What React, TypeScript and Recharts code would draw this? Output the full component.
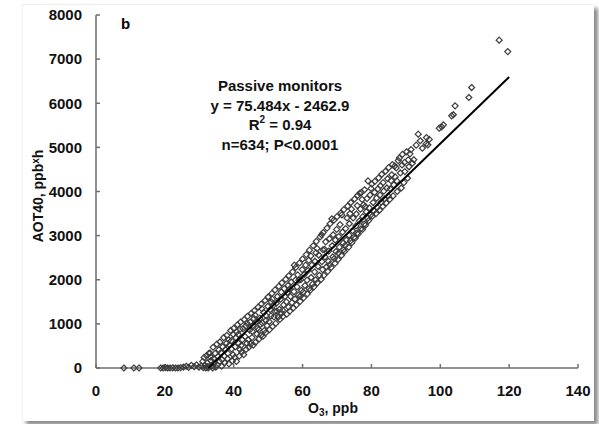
import React from "react";
import { ScatterChart, Scatter, XAxis, YAxis } from "recharts";

// O3 (ppb) vs AOT40 (ppb*h), passive monitors
const nearZero: [number, number][] = [
  [8.1, 0], [11, 0], [12.5, 0], [18.8, 0], [19.5, 0], [20.2, 10], [20.8, 0],
  [21.5, 0], [22.3, 5], [23.1, 0], [23.8, 0], [24.6, 10], [25.4, 20], [26.2, 40],
  [26.9, 15], [27.7, 60], [28.5, 30], [29.2, 70], [29.9, 20], [30.6, 45],
  [31.2, 10], [31.9, 0], [32.5, 30],
];

const rising: [number, number][] = [
  [31.0, 150], [31.4, 240], [31.7, 60], [32.1, 280], [32.3, 120], [32.8, 330], [32.6, 0],
  [33.1, 340], [33.4, 170], [33.7, 45], [33.3, 250], [33.9, 0],
  [34.0, 470], [34.3, 110], [34.6, 330], [34.8, 20], [34.2, 210],
  [35.1, 540], [35.4, 260], [35.2, 70], [35.7, 410], [35.9, 150],
  [36.0, 590], [36.3, 350], [36.5, 40], [36.8, 480], [36.6, 190],
  [37.1, 690], [37.4, 120], [37.6, 420], [37.3, 270], [37.9, 560],
  [38.0, 740], [38.3, 330], [38.6, 95], [38.8, 520], [38.5, 640], [38.2, 210],
  [39.1, 850], [39.4, 430], [39.6, 160], [39.3, 620], [39.8, 300], [39.9, 760],
  [40.0, 900], [40.3, 240], [40.6, 690], [40.4, 480], [40.8, 150], [40.9, 820],
  [41.1, 980], [41.4, 560], [41.6, 270], [41.3, 760], [41.8, 420], [41.9, 880],
  [42.0, 1040], [42.3, 360], [42.5, 640], [42.7, 890], [42.9, 300], [42.2, 510],
  [43.1, 1100], [43.3, 710], [43.6, 420], [43.5, 950], [43.8, 560], [43.9, 1010],
  [44.0, 1170], [44.4, 470], [44.6, 860], [44.2, 640], [44.8, 1040], [44.9, 540],
  [45.1, 1240], [45.3, 690], [45.5, 960], [45.7, 520], [45.9, 1120], [45.4, 830],
  [46.0, 1300], [46.3, 580], [46.5, 1050], [46.7, 770], [46.9, 900], [46.2, 1200],
  [47.1, 1380], [47.4, 660], [47.6, 1130], [47.3, 870], [47.8, 990], [47.9, 740],
  [48.0, 1450], [48.3, 1020], [48.5, 720], [48.7, 1260], [48.9, 850], [48.2, 1340],
  [49.1, 1530], [49.3, 800], [49.5, 1180], [49.7, 960], [49.9, 1400], [49.4, 1080],
  [50.0, 1610], [50.4, 870], [50.6, 1320], [50.3, 1050], [50.8, 1180], [50.9, 1500],
  [51.1, 1690], [51.3, 940], [51.5, 1420], [51.7, 1160], [51.9, 1280], [51.2, 1560],
  [52.0, 1770], [52.2, 1010], [52.5, 1290], [52.7, 1620], [52.9, 1150], [52.4, 1470],
  [53.1, 1850], [53.4, 1100], [53.6, 1560], [53.3, 1330], [53.8, 1720], [53.9, 1240],
  [54.0, 1930], [54.3, 1170], [54.5, 1430], [54.7, 1800], [54.9, 1620], [54.2, 1310],
  [55.1, 2010], [55.4, 1220], [55.6, 1710], [55.3, 1500], [55.8, 1870], [55.9, 1380],
  [56.0, 2090], [56.3, 1290], [56.5, 1620], [56.7, 1950], [56.9, 1480], [56.2, 1790],
  [57.1, 2180], [57.3, 1360], [57.6, 2330], [57.5, 1730], [57.8, 1560], [57.9, 1990],
  [58.0, 2280], [58.2, 1430], [58.4, 1840], [58.6, 2110], [58.8, 1650], [58.9, 1990],
  [59.1, 2380], [59.3, 1510], [59.5, 2000], [59.7, 1760], [59.9, 2230], [59.4, 1630],
  [60.0, 2470], [60.3, 1590], [60.5, 2120], [60.7, 1870], [60.9, 2330], [60.2, 1720],
];

const middle: [number, number][] = [
  [61.1, 2570], [61.4, 1680], [61.6, 2210], [61.3, 1990], [61.8, 2440], [61.9, 1800],
  [62.0, 2670], [62.2, 1760], [62.5, 2050], [62.7, 2330], [62.9, 1900], [62.4, 2540],
  [63.1, 2770], [63.3, 1840], [63.6, 2420], [63.5, 2180], [63.8, 2000], [63.9, 2610],
  [64.0, 2870], [64.3, 1930], [64.5, 2300], [64.7, 2560], [64.9, 2100], [64.2, 2710],
  [65.1, 2970], [65.4, 2010], [65.5, 3020], [65.6, 2410], [65.8, 2230], [65.9, 2680],
  [66.0, 3070], [66.2, 2100], [66.5, 2520], [66.7, 2860], [66.9, 2290], [66.4, 2690],
  [67.1, 3170], [67.3, 2190], [67.6, 2650], [67.5, 2420], [67.8, 2930], [67.9, 2340],
  [68.0, 3270], [68.3, 2280], [68.5, 3380], [68.6, 2770], [68.8, 2520], [68.9, 3020],
  [69.1, 3350], [69.4, 2370], [69.5, 2900], [69.7, 2640], [69.9, 3140], [69.2, 2480],
  [70.0, 3430], [70.3, 2460], [70.5, 2980], [70.7, 2740], [70.9, 3250], [70.4, 2600],
  [71.1, 3510], [71.3, 2550], [71.4, 3470], [71.6, 3080], [71.8, 2830], [71.9, 2680],
  [72.0, 3590], [72.2, 2640], [72.5, 3160], [72.7, 2900], [72.9, 3400], [72.4, 2780],
  [73.1, 3670], [73.4, 2740], [73.6, 3270], [73.5, 3010], [73.8, 3500], [73.9, 2880],
  [74.0, 3750], [74.3, 2840], [74.5, 3110], [74.7, 3400], [74.9, 2960], [74.2, 3600],
  [75.1, 3830], [75.3, 2940], [75.6, 3490], [75.5, 3220], [75.8, 3050], [75.9, 3680],
  [76.0, 3910], [76.2, 3040], [76.5, 3330], [76.6, 3960], [76.8, 3600], [76.9, 3150],
  [77.1, 3980], [77.4, 3140], [77.5, 3430], [77.7, 3700], [77.9, 3260], [77.3, 3820],
  [78.0, 4040], [78.3, 3240], [78.5, 3540], [78.7, 3840], [78.9, 3390], [78.2, 3660],
  [79.0, 4240], [79.2, 3340], [79.4, 3630], [79.6, 3920], [79.8, 3470], [79.9, 4070],
  [80.1, 4170], [80.3, 3440], [80.5, 3750], [80.7, 3560], [80.9, 3980],
  [81.0, 4230], [81.3, 3500], [81.5, 3850], [81.7, 3640], [81.9, 4060],
  [82.1, 4310], [82.4, 3580], [82.5, 3920], [82.8, 3760], [82.6, 4130],
  [83.0, 4390], [83.3, 3660], [83.6, 4010], [83.8, 3830], [83.4, 4200],
  [84.1, 4460], [84.5, 4080], [84.3, 3740], [84.7, 4290], [84.9, 3900],
  [85.0, 4540], [85.7, 4247], [85.3, 3820], [85.5, 4060], [85.9, 4380],
  [86.1, 4610], [86.8, 4580], [86.3, 3900], [86.5, 4150], [86.9, 4330],
  [87.2, 4535], [87.5, 4000], [87.8, 4700], [87.4, 4240],
  [88.1, 4760], [88.4, 4420], [88.7, 4080], [88.9, 4600],
  [89.0, 4840], [89.7, 4451], [89.4, 4200], [89.6, 4660],
  [90.2, 4900], [90.7, 4717], [90.5, 4300], [90.9, 4560],
];

const upperTail: [number, number][] = [
  [91.2, 4853], [91.9, 4640], [91.5, 4950], [92.3, 4720], [93.6, 5299], [93.0, 5050],
  [94.2, 5150], [94.8, 4980], [95.9, 5079], [96.0, 5222], [96.4, 5057], [96.8, 5180],
  [99.7, 5435], [100.4, 5465], [100.9, 5510], [103.3, 5714], [103.8, 5740],
  [104.3, 5941], [108.3, 6130], [109.1, 6356], [117.1, 7430], [119.6, 7170],
];

const xTicks = [0, 20, 40, 60, 80, 100, 120, 140];
const yTicks = [0, 1000, 2000, 3000, 4000, 5000, 6000, 7000, 8000];

// regression from the figure: y = 75.484x - 2462.9
const slope = 75.484;
const intercept = -2462.9;
const fitRange = [-intercept / slope, 120];

const points = [...nearZero, ...rising, ...middle, ...upperTail].map(([x, y]) => ({ x, y }));
const fitLine = fitRange.map((x) => ({ x, y: slope * x + intercept }));

const font = '"Liberation Sans", Arial, sans-serif';
const axisColor = "#6e6e6e";

const Diamond = (props: any) => {
  const { cx, cy } = props;
  if (cx == null || cy == null) return <g />;
  const r = 3;
  return (
    <path
      d={`M${cx},${cy - r}L${cx + r},${cy}L${cx},${cy + r}L${cx - r},${cy}Z`}
      fill="none"
      stroke="#3c3c3c"
      strokeWidth={1.2}
    />
  );
};

const tickStyle = { fontFamily: font, fontSize: 15, fontWeight: 700, fill: "#111" };

export default function App() {
  return (
    <div style={{ position: "absolute", left: 0, top: 0, width: 599, height: 424, background: "#fff", overflow: "hidden" }}>
      <div
        style={{
          position: "absolute",
          left: 22,
          top: 4,
          width: 571,
          height: 416,
          background: "#fff",
          borderTop: "1px solid #eeeeee",
          borderLeft: "1px solid #f2f2f2",
          boxShadow: "4px 4px 4px #8a8a8a",
        }}
      />
      <div style={{ position: "absolute", left: 0, top: 0 }}>
        <ScatterChart width={599} height={424} margin={{ top: 15, right: 21, bottom: 0, left: 0 }}>
          <XAxis
            type="number"
            dataKey="x"
            domain={[0, 140]}
            ticks={xTicks}
            interval={0}
            height={56}
            tickSize={-4}
            tickMargin={21}
            axisLine={{ stroke: axisColor, strokeWidth: 1.5 }}
            tickLine={{ stroke: axisColor, strokeWidth: 1.5 }}
            tick={tickStyle}
          />
          <YAxis
            type="number"
            dataKey="y"
            domain={[0, 8000]}
            ticks={yTicks}
            interval={0}
            width={96}
            tickSize={-4}
            tickMargin={18}
            axisLine={{ stroke: axisColor, strokeWidth: 1.5 }}
            tickLine={{ stroke: axisColor, strokeWidth: 1.5 }}
            tick={tickStyle}
          />
          <Scatter data={points} shape={Diamond} isAnimationActive={false} />
          <Scatter
            data={fitLine}
            line={{ stroke: "#000", strokeWidth: 2 }}
            shape={() => <g />}
            isAnimationActive={false}
          />
        </ScatterChart>
      </div>
      <div style={{ position: "absolute", left: 121, top: 16, fontFamily: font, fontWeight: 700, fontSize: 15, lineHeight: "15px" }}>
        b
      </div>
      <div
        style={{
          position: "absolute",
          left: 180,
          top: 76,
          width: 200,
          textAlign: "center",
          fontFamily: font,
          fontWeight: 700,
          fontSize: 15,
          lineHeight: "19.5px",
          color: "#111",
        }}
      >
        <div>Passive monitors</div>
        <div>y = 75.484x - 2462.9</div>
        <div>
          R<span style={{ fontSize: 10, verticalAlign: "top", lineHeight: "10px" }}>2</span> = 0.94
        </div>
        <div>n=634; P&lt;0.0001</div>
      </div>
      <div
        style={{
          position: "absolute",
          left: 38,
          top: 196,
          transform: "translate(-50%, -50%) rotate(-90deg)",
          whiteSpace: "nowrap",
          fontFamily: font,
          fontWeight: 700,
          fontSize: 14,
          lineHeight: "14px",
          color: "#111",
        }}
      >
        AOT40, ppb<span style={{ fontSize: 10, verticalAlign: "top", lineHeight: "10px" }}>x</span>h
      </div>
      <div
        style={{
          position: "absolute",
          left: 333,
          top: 409,
          transform: "translate(-50%, -50%)",
          whiteSpace: "nowrap",
          fontFamily: font,
          fontWeight: 700,
          fontSize: 14,
          lineHeight: "14px",
          color: "#111",
        }}
      >
        O<span style={{ fontSize: 10, verticalAlign: "-3px", lineHeight: "10px" }}>3</span>, ppb
      </div>
    </div>
  );
}
